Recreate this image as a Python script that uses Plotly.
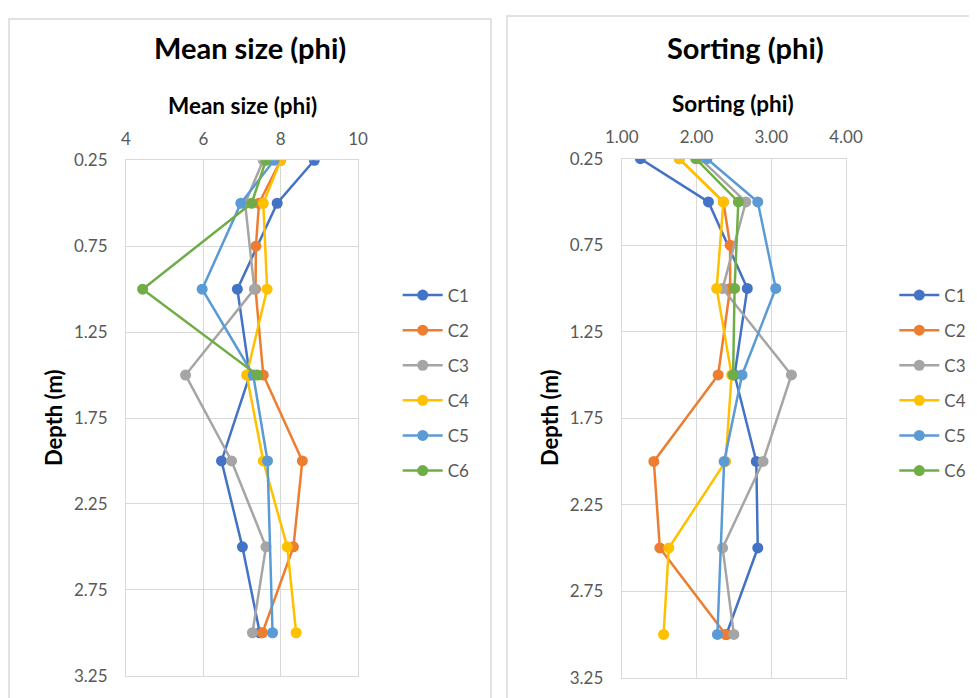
import plotly.graph_objects as go

# ---------------- data ----------------
series_names = ["C1", "C2", "C3", "C4", "C5", "C6"]
colors = ["#4472C4", "#ED7D31", "#A5A5A5", "#FFC000", "#5B9BD5", "#70AD47"]

depth_C1 = [0.25, 0.5, 1.0, 1.5, 2.0, 2.5, 3.0]
depth_C2 = [0.25, 0.5, 0.75, 1.0, 1.5, 2.0, 2.5, 3.0]
depth_C3 = [0.25, 0.5, 1.0, 1.5, 2.0, 2.5, 3.0]
depth_C4 = [0.25, 0.5, 1.0, 1.5, 2.0, 2.5, 3.0]
depth_C5 = [0.25, 0.5, 1.0, 1.5, 2.0, 3.0]
depth_C6 = [0.25, 0.5, 1.0, 1.5]

mean_C1 = [8.87, 7.91, 6.88, 7.20, 6.47, 7.01, 7.46]
mean_C2 = [8.00, 7.44, 7.36, 7.35, 7.55, 8.56, 8.33, 7.53]
mean_C3 = [7.55, 7.08, 7.32, 5.54, 6.73, 7.62, 7.27]
mean_C4 = [8.00, 7.55, 7.65, 7.12, 7.55, 8.17, 8.40]
mean_C5 = [7.83, 6.97, 5.97, 7.29, 7.66, 7.79]
mean_C6 = [7.62, 7.25, 4.43, 7.40]

sort_C1 = [1.25, 2.16, 2.68, 2.51, 2.80, 2.82, 2.40]
sort_C2 = [1.77, 2.36, 2.45, 2.45, 2.29, 1.43, 1.51, 2.39]
sort_C3 = [2.05, 2.66, 2.35, 3.27, 2.89, 2.35, 2.50]
sort_C4 = [1.77, 2.36, 2.27, 2.47, 2.39, 1.63, 1.56]
sort_C5 = [2.14, 2.82, 3.06, 2.61, 2.37, 2.28]
sort_C6 = [1.99, 2.56, 2.51, 2.49]

depths = [depth_C1, depth_C2, depth_C3, depth_C4, depth_C5, depth_C6]
means = [mean_C1, mean_C2, mean_C3, mean_C4, mean_C5, mean_C6]
sorts = [sort_C1, sort_C2, sort_C3, sort_C4, sort_C5, sort_C6]

y_ticks = [0.25, 0.75, 1.25, 1.75, 2.25, 2.75, 3.25]

# ---------------- layout helpers ----------------
# the page body has an 8px margin, so the figure is drawn 8px in from the window edge
OFF = 8
W, H = 977 - OFF, 698 - OFF
def px(x):
    return (x - OFF) / W
def py(y):
    return 1 - (y - OFF) / H

FONT = "Lato"
GRID = "#d9d9d9"
TICKC = "#595959"

fig = go.Figure()

for i, name in enumerate(series_names):
    fig.add_trace(go.Scatter(
        x=means[i], y=depths[i], name=name, mode="lines+markers",
        line=dict(color=colors[i], width=2.5),
        marker=dict(color=colors[i], size=11),
        xaxis="x", yaxis="y", legend="legend", legendgroup="a" + name,
    ))
for i, name in enumerate(series_names):
    fig.add_trace(go.Scatter(
        x=sorts[i], y=depths[i], name=name, mode="lines+markers",
        line=dict(color=colors[i], width=2.5),
        marker=dict(color=colors[i], size=11),
        xaxis="x2", yaxis="y2", legend="legend2", legendgroup="b" + name,
    ))

def xax(domain, rng, dtick, fmt, anchor):
    return dict(domain=domain, range=rng, dtick=dtick, tick0=rng[0], tickformat=fmt,
                side="top", anchor=anchor, showgrid=True, gridcolor=GRID, gridwidth=1,
                showline=True, linecolor=GRID, mirror=True, zeroline=False, ticks="",
                tickfont=dict(family=FONT, size=17, color=TICKC), ticklabelstandoff=8,
                fixedrange=True)

def yax(domain, anchor):
    return dict(domain=domain, range=[3.25, 0.25], tickvals=y_ticks, tickformat=".2f",
                anchor=anchor, showgrid=True, gridcolor=GRID, gridwidth=1,
                showline=True, linecolor=GRID, mirror=True, zeroline=False, ticks="",
                tickfont=dict(family=FONT, size=17, color=TICKC), ticklabelstandoff=14,
                fixedrange=True)

leg = dict(xanchor="left", yanchor="top", font=dict(family=FONT, size=17, color=TICKC),
           bgcolor="rgba(0,0,0,0)", tracegroupgap=10, itemwidth=40)

annotations = [
    dict(text="<b>Mean size (phi)</b>", x=px(250), y=py(47), font=dict(size=29)),
    dict(text="<b>Sorting (phi)</b>", x=px(745), y=py(47), font=dict(size=29)),
    dict(text="<b>Mean size (phi)</b>", x=px(242), y=py(105), font=dict(size=22.5)),
    dict(text="<b>Sorting (phi)</b>", x=px(733), y=py(104), font=dict(size=22.5)),
    dict(text="<b>Depth (m)</b>", x=px(53), y=py(418), textangle=-90, font=dict(size=22)),
    dict(text="<b>Depth (m)</b>", x=px(549), y=py(418), textangle=-90, font=dict(size=22)),
]
for a in annotations:
    a.update(xref="paper", yref="paper", showarrow=False, xanchor="center", yanchor="middle")
    a["font"].update(family=FONT, color="#000000")

shapes = [
    dict(type="rect", xref="paper", yref="paper", x0=px(9), x1=px(491), y0=py(710), y1=py(19),
         line=dict(color=GRID, width=1.5)),
    dict(type="rect", xref="paper", yref="paper", x0=px(507), x1=px(995), y0=py(710), y1=py(16),
         line=dict(color=GRID, width=1.5)),
]

fig.update_layout(
    width=W, height=H, margin=dict(l=0, r=0, t=0, b=0, autoexpand=False),
    paper_bgcolor="white", plot_bgcolor="white",
    font=dict(family=FONT),
    xaxis=xax([px(126), px(358)], [4, 10], 2, "d", "y"),
    yaxis=yax([py(675.7), py(160.3)], "x"),
    xaxis2=xax([px(621.7), px(846)], [1, 4], 1, ".2f", "y2"),
    yaxis2=yax([py(677.7), py(158.7)], "x2"),
    legend=dict(leg, x=px(397.7), y=py(277.5)),
    legend2=dict(leg, x=px(894.3), y=py(277.5)),
    annotations=annotations,
    shapes=shapes,
    showlegend=True,
)

fig.write_html("out.html")
